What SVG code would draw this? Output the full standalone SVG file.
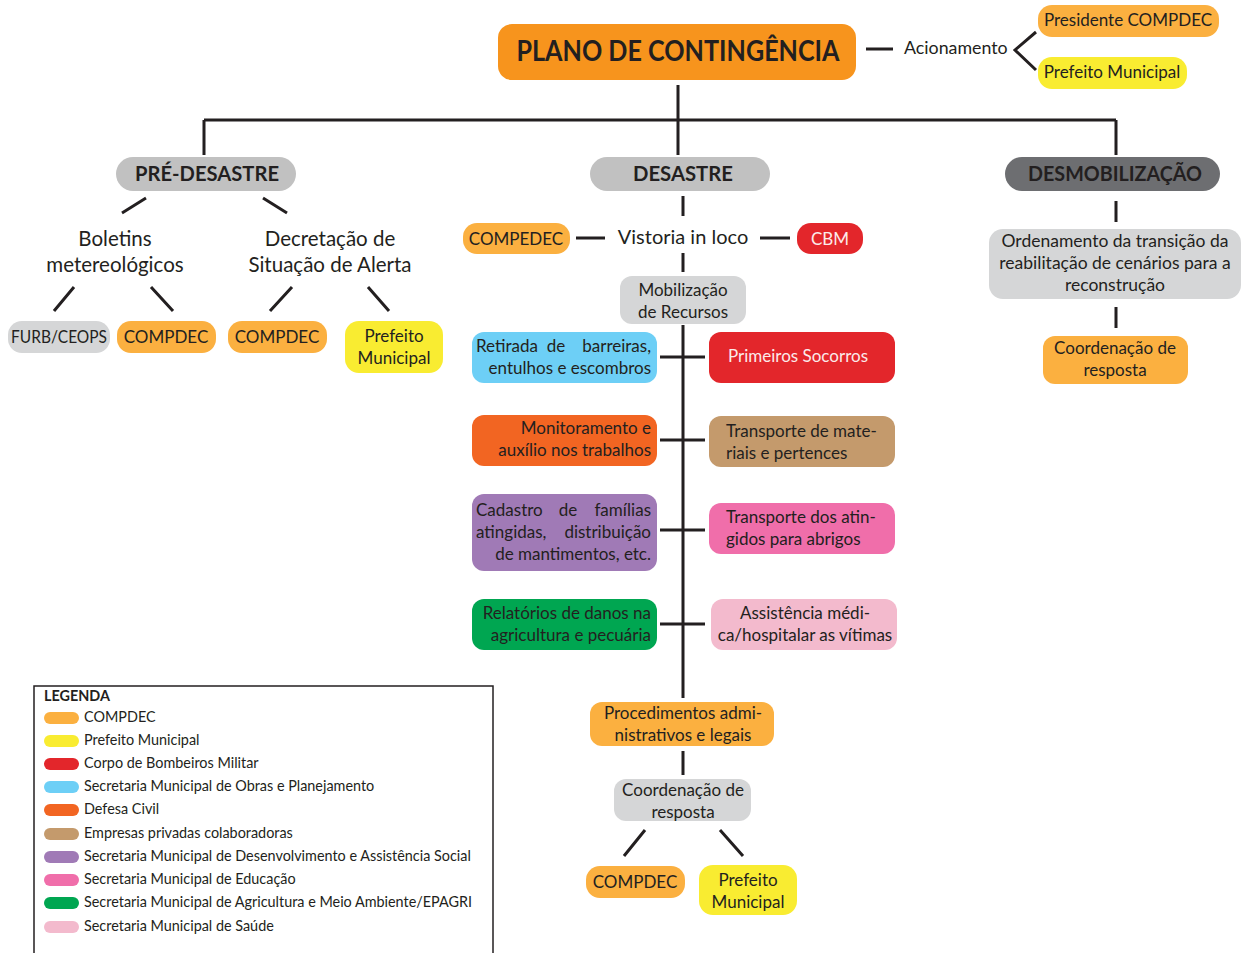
<svg xmlns="http://www.w3.org/2000/svg" width="1243" height="953" viewBox="0 0 1243 953">
<style>
text{font-family:Lato,"Open Sans","Liberation Sans",sans-serif;fill:#231F20;font-size:17px}
.c{text-anchor:middle}
.r{text-anchor:end}
.h{font-weight:bold;font-size:21px}
.t{font-weight:bold;font-size:28px}
.m{font-size:20.5px}
.v{font-size:20px}
.lg{font-size:14.4px}
.w{fill:#FBEAEA}
.ln{stroke:#231F20;stroke-width:3;fill:none}
.or{fill:#FBB040}
.ye{fill:#F9EC31}
.rd{fill:#E3262B}
.bl{fill:#6DCFF6}
.dc{fill:#F26522}
.tn{fill:#C49A6C}
.pu{fill:#A07AB6}
.pk{fill:#F06EAA}
.gr{fill:#00A651}
.lp{fill:#F3BACD}
.g1{fill:#C1C1C1}
.g2{fill:#D5D6D7}
.g3{fill:#6D6E71}
</style>
<g id="connectors">
<path class="ln" d="M866 49H893M1036 32L1015 50L1036 70"/>
<path class="ln" d="M678 85V120M204 120H1116M204 120V155M678 120V155M1116 120V155"/>
<path class="ln" d="M122 213L146 198M263 198L287 213M54 311L74 287M151 287L173 311M270 311L292 287M368 287L389 311"/>
<path class="ln" d="M683 196V216M576 238H605M760 238H790M683 253V272M683 325V698"/>
<path class="ln" d="M660 357H705M660 440H705M660 530H705M660 624H705"/>
<path class="ln" d="M683 751V775M624 856L645 830M720 830L743 856"/>
<path class="ln" d="M1116 201V222M1116 307V328"/>
</g>
<g id="plano">
<rect x="498" y="24" width="358" height="56" rx="14" fill="#F7941D"/>
<text class="t c" x="678" y="61" textLength="323" lengthAdjust="spacingAndGlyphs">PLANO DE CONTINGÊNCIA</text>
</g>
<g id="acionamento"><text x="904" y="54" style="font-size:17.8px">Acionamento</text></g>
<g id="presidente">
<rect class="or" x="1038" y="5" width="181" height="32" rx="14"/>
<text class="c" x="1128" y="26">Presidente COMPDEC</text>
</g>
<g id="prefeito-top">
<rect class="ye" x="1038" y="57" width="149" height="32" rx="14"/>
<text class="c" x="1112" y="78">Prefeito Municipal</text>
</g>
<g id="pre-desastre">
<rect class="g1" x="116" y="157" width="180" height="34" rx="17"/>
<text class="h c" x="207" y="181" textLength="144" lengthAdjust="spacingAndGlyphs">PRÉ-DESASTRE</text>
</g>
<g id="desastre">
<rect class="g1" x="590" y="157" width="180" height="34" rx="17"/>
<text class="h c" x="683" y="181" textLength="100" lengthAdjust="spacingAndGlyphs">DESASTRE</text>
</g>
<g id="desmobilizacao">
<rect class="g3" x="1005" y="157" width="215" height="34" rx="17"/>
<text class="h c" x="1115" y="181" textLength="174" lengthAdjust="spacingAndGlyphs">DESMOBILIZAÇÃO</text>
</g>
<g id="boletins">
<text class="m c" x="115" y="246">Boletins</text>
<text class="m c" x="115" y="272">metereológicos</text>
</g>
<g id="decretacao">
<text class="m c" x="330" y="246">Decretação de</text>
<text class="m c" x="330" y="272">Situação de Alerta</text>
</g>
<g id="furb">
<rect class="g2" x="8" y="321" width="102" height="32" rx="14"/>
<text class="c" x="59" y="343" textLength="96" lengthAdjust="spacingAndGlyphs">FURB/CEOPS</text>
</g>
<g id="compdec-1">
<rect class="or" x="117" y="321" width="99" height="32" rx="14"/>
<text class="c" x="166" y="343">COMPDEC</text>
</g>
<g id="compdec-2">
<rect class="or" x="228" y="321" width="99" height="32" rx="14"/>
<text class="c" x="277" y="343">COMPDEC</text>
</g>
<g id="prefeito-1">
<rect class="ye" x="345" y="321" width="98" height="52" rx="14"/>
<text class="c" x="394" y="342">Prefeito</text>
<text class="c" x="394" y="364">Municipal</text>
</g>
<g id="vistoria"><text class="v c" x="683" y="244">Vistoria in loco</text></g>
<g id="compedec">
<rect class="or" x="463" y="223" width="107" height="31" rx="14"/>
<text class="c" x="516" y="245">COMPEDEC</text>
</g>
<g id="cbm">
<rect class="rd" x="797" y="223" width="66" height="31" rx="14"/>
<text class="c w" x="830" y="245">CBM</text>
</g>
<g id="mobilizacao">
<rect class="g2" x="620" y="276" width="126" height="48" rx="12"/>
<text class="c" x="683" y="296">Mobilização</text>
<text class="c" x="683" y="318">de Recursos</text>
</g>
<g id="retirada">
<rect class="bl" x="472" y="332" width="185" height="51" rx="12"/>
<text x="476" y="352">Retirada</text><text class="c" x="556" y="352">de</text><text class="r" x="651" y="352">barreiras,</text>
<text class="r" x="651" y="374">entulhos e escombros</text>
</g>
<g id="primeiros">
<rect class="rd" x="709" y="332" width="186" height="51" rx="12"/>
<text class="c w" x="798" y="362">Primeiros Socorros</text>
</g>
<g id="monitoramento">
<rect class="dc" x="472" y="415" width="185" height="51" rx="12"/>
<text class="r" x="651" y="434">Monitoramento e</text>
<text class="r" x="651" y="456">auxílio nos trabalhos</text>
</g>
<g id="transporte-materiais">
<rect class="tn" x="709" y="416" width="186" height="51" rx="12"/>
<text x="726" y="437">Transporte de mate-</text>
<text x="726" y="459">riais e pertences</text>
</g>
<g id="cadastro">
<rect class="pu" x="472" y="494" width="185" height="77" rx="12"/>
<text x="476" y="516">Cadastro</text><text class="c" x="568" y="516">de</text><text class="r" x="651" y="516">famílias</text>
<text x="476" y="538">atingidas,</text><text class="r" x="651" y="538">distribuição</text>
<text class="r" x="651" y="560">de mantimentos, etc.</text>
</g>
<g id="transporte-atingidos">
<rect class="pk" x="709" y="503" width="186" height="51" rx="12"/>
<text x="726" y="523">Transporte dos atin-</text>
<text x="726" y="545">gidos para abrigos</text>
</g>
<g id="relatorios">
<rect class="gr" x="472" y="599" width="185" height="51" rx="12"/>
<text class="r" x="651" y="619">Relatórios de danos na</text>
<text class="r" x="651" y="641">agricultura e pecuária</text>
</g>
<g id="assistencia">
<rect class="lp" x="711" y="599" width="186" height="51" rx="12"/>
<text class="c" x="805" y="619">Assistência médi-</text>
<text class="c" x="805" y="641">ca/hospitalar as vítimas</text>
</g>
<g id="procedimentos">
<rect class="or" x="590" y="702" width="184" height="44" rx="12"/>
<text class="c" x="683" y="719">Procedimentos admi-</text>
<text class="c" x="683" y="741">nistrativos e legais</text>
</g>
<g id="coordenacao-1">
<rect class="g2" x="614" y="779" width="137" height="42" rx="12"/>
<text class="c" x="683" y="796">Coordenação de</text>
<text class="c" x="683" y="818">resposta</text>
</g>
<g id="compdec-3">
<rect class="or" x="586" y="866" width="99" height="32" rx="14"/>
<text class="c" x="635" y="888">COMPDEC</text>
</g>
<g id="prefeito-2">
<rect class="ye" x="699" y="865" width="98" height="50" rx="14"/>
<text class="c" x="748" y="886">Prefeito</text>
<text class="c" x="748" y="908">Municipal</text>
</g>
<g id="ordenamento">
<rect class="g2" x="989" y="229" width="252" height="70" rx="14"/>
<text class="c" x="1115" y="247" style="font-size:17.5px">Ordenamento da transição da</text>
<text class="c" x="1115" y="269" style="font-size:17.5px">reabilitação de cenários para a</text>
<text class="c" x="1115" y="291" style="font-size:17.5px">reconstrução</text>
</g>
<g id="coordenacao-2">
<rect class="or" x="1043" y="336" width="145" height="48" rx="12"/>
<text class="c" x="1115" y="354">Coordenação de</text>
<text class="c" x="1115" y="376">resposta</text>
</g>
<g id="legenda">
<rect x="34" y="686" width="459" height="275" fill="#FFFFFF" stroke="#231F20" stroke-width="1.5"/>
<text class="lg" x="44" y="701" font-weight="bold">LEGENDA</text>
<rect class="or" x="44" y="712" width="35" height="12" rx="6"/><text class="lg" x="84" y="722">COMPDEC</text>
<rect class="ye" x="44" y="735" width="35" height="12" rx="6"/><text class="lg" x="84" y="745">Prefeito Municipal</text>
<rect class="rd" x="44" y="758" width="35" height="12" rx="6"/><text class="lg" x="84" y="768">Corpo de Bombeiros Militar</text>
<rect class="bl" x="44" y="781" width="35" height="12" rx="6"/><text class="lg" x="84" y="791">Secretaria Municipal de Obras e Planejamento</text>
<rect class="dc" x="44" y="804" width="35" height="12" rx="6"/><text class="lg" x="84" y="814">Defesa Civil</text>
<rect class="tn" x="44" y="828" width="35" height="12" rx="6"/><text class="lg" x="84" y="838">Empresas privadas colaboradoras</text>
<rect class="pu" x="44" y="851" width="35" height="12" rx="6"/><text class="lg" x="84" y="861">Secretaria Municipal de Desenvolvimento e Assistência Social</text>
<rect class="pk" x="44" y="874" width="35" height="12" rx="6"/><text class="lg" x="84" y="884">Secretaria Municipal de Educação</text>
<rect class="gr" x="44" y="897" width="35" height="12" rx="6"/><text class="lg" x="84" y="907">Secretaria Municipal de Agricultura e Meio Ambiente/EPAGRI</text>
<rect class="lp" x="44" y="921" width="35" height="12" rx="6"/><text class="lg" x="84" y="931">Secretaria Municipal de Saúde</text>
</g>
</svg>
